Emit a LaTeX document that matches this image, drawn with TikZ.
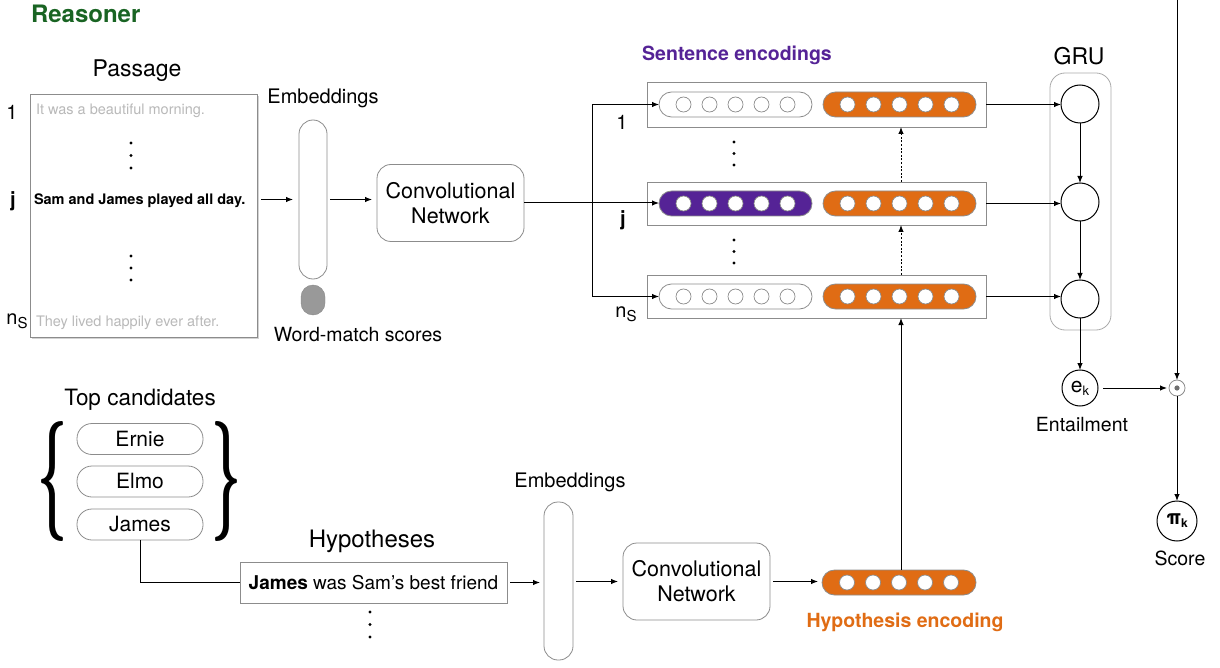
\documentclass[tikz,border=0pt]{standalone}
\usepackage{fontspec}
\setmainfont{TeX Gyre Heros}
\usepackage{graphicx}
\usetikzlibrary{arrows.meta,shadows,calc}
\definecolor{rgreen}{RGB}{25,100,35}
\definecolor{rpurple}{RGB}{85,35,150}
\definecolor{rorange}{RGB}{224,108,20}
\definecolor{bgray}{RGB}{140,140,140}
\definecolor{lgray}{RGB}{170,170,170}
\definecolor{tgray}{RGB}{185,185,185}
\newcommand{\fsz}[1]{\fontsize{#1}{#1}\selectfont}
\begin{document}
\begin{tikzpicture}[x=1pt,y=-1pt,
  every node/.style={inner sep=0pt, outer sep=0pt},
  conn/.style={line width=1pt, -{Latex[length=7pt,width=5.5pt]}},
  plainline/.style={line width=1pt},
  gbox/.style={draw=bgray, line width=0.8pt, fill=white},
  rbox/.style={gbox, rounded corners=14pt},
  pill/.style={draw=bgray, line width=0.8pt, rounded corners=12.5pt, minimum width=153pt, minimum height=25pt},
  cand/.style={draw=bgray, line width=0.8pt, rounded corners=15pt, minimum width=126pt, minimum height=31pt, font=\fsz{21}},
  unit/.style={circle, minimum size=15pt, line width=0.7pt, draw=bgray, fill=white},
  gru/.style={circle, draw, line width=1pt, minimum size=38pt},
  lbl/.style={font=\fsz{20}},
]
\useasboundingbox (0,0) rectangle (1220,668);

% ---------- titles ----------
\node[anchor=west, text=rgreen, font=\fsz{24}\bfseries] (title) at (31,14) {Reasoner};
\node[font=\fsz{23}] (passlbl) at (137,71) {Passage};
\node[text=rpurple, font=\fsz{19.5}\bfseries] (senclbl) at (737,55) {Sentence encodings};
\node[font=\fsz{23}] (grulbl) at (1079,56) {GRU};

% ---------- passage ----------
\node[gbox, minimum width=227pt, minimum height=243pt,
  drop shadow={shadow xshift=2pt, shadow yshift=-2pt, opacity=0.35}] (passage) at (143.5,215.5) {};
\node[anchor=west, text=tgray, font=\fsz{14.5}] (s1) at (36,111) {It was a beautiful morning.};
\node[anchor=west, font=\fsz{14.5}\bfseries] (sj) at (34,201) {Sam and James played all day.};
\node[anchor=west, text=tgray, font=\fsz{14.5}] (sn) at (36,323) {They lived happily ever after.};
\node[lbl] (p1) at (12,112) {1};
\node[lbl, font=\fsz{20}\bfseries] (pj) at (13,201) {j};
\node[lbl] (pn) at (17,321) {n\raisebox{-4pt}{\fsz{15}S}};
\foreach \y in {143,155.5,168,256,268,280} \fill (131,\y) circle (1.6);

% ---------- embeddings (top) ----------
\node[lbl] (emb1lbl) at (323,98) {Embeddings};
\node[rbox, minimum width=28pt, minimum height=159pt] (emb1) at (313,199.5) {};
\node[fill=lgray!90!black, draw=lgray!80!black, rounded corners=12pt, minimum width=24pt, minimum height=30pt] (wm) at (313,300) {};
\node[font=\fsz{19.5}] (wmlbl) at (358,335) {Word-match scores};
\draw[conn] ($(passage.east |- emb1.west)+(4,0)$) -- ($(emb1.west)+(-6,0)$);

% ---------- conv (top) ----------
\node[rbox, minimum width=147pt, minimum height=77pt, align=center, font=\fontsize{21.5}{25}\selectfont] (conv1) at (450.5,203) {Convolutional\\Network};
\draw[conn] ($(emb1.east)+(3,0)$) -- ($(conv1.west |- emb1.east)+(-5,0)$);

% ---------- sentence encoding rows ----------
\node[gbox, minimum width=339pt, minimum height=45pt] (row1) at (816.5,104.5) {};
\node[gbox, minimum width=339pt, minimum height=43pt] (rowj) at (816.5,203.5) {};
\node[gbox, minimum width=339pt, minimum height=43pt] (rown) at (816.5,296.5) {};

\node[pill, fill=white] (l1) at (735.5,104.5) {};
\node[pill, fill=rpurple] (lj) at (735.5,203.5) {};
\node[pill, fill=white] (ln) at (735.5,296.5) {};
\node[pill, fill=rorange] (r1) at (899.5,104.5) {};
\node[pill, fill=rorange] (rj) at (899.5,203.5) {};
\node[pill, fill=rorange] (rn) at (899.5,296.5) {};
\foreach \p in {l1,lj,ln,r1,rj,rn}
  \foreach \k in {-2,...,2}
    \node[unit] (\p-u\k) at ($(\p.center)+(\k*26,0)$) {};

\node[lbl] (r1lbl) at (622,122) {1};
\node[lbl, font=\fsz{20}\bfseries] (rjlbl) at (623,220) {j};
\node[lbl] (rnlbl) at (626,314) {n\raisebox{-4pt}{\fsz{15}S}};
\foreach \y in {142,153.5,165,240,251.5,263} \fill (734,\y) circle (1.6);

\coordinate (bx) at (592,0);
\draw[conn] (conv1.east) -- (conv1.east -| lj.west);
\draw[conn] (bx |- conv1.east) |- (l1.west);
\draw[conn] (bx |- conv1.east) |- (ln.west);

\draw[conn, dash pattern=on 2pt off 1.6pt] ([xshift=1.5pt]rowj.north -| r1.center) -- ([xshift=1.5pt]row1.south -| r1.center);
\draw[conn, dash pattern=on 2pt off 1.6pt] ([xshift=1.5pt]rown.north -| r1.center) -- ([xshift=1.5pt]rowj.south -| r1.center);

% ---------- GRU ----------
\node[draw=lgray, line width=0.8pt, rounded corners=15pt, minimum width=61pt, minimum height=257pt] (grubox) at (1080.5,201.5) {};
\node[gru] (g1) at (1080,104) {};
\node[gru] (g2) at (1080,202) {};
\node[gru] (g3) at (1080,299) {};
\draw[conn] (row1.east) -- (row1.east -| g1.west);
\draw[conn] (rowj.east) -- (rowj.east -| g2.west);
\draw[conn] (rown.east) -- (rown.east -| g3.west);
\draw[conn] (g1.south) -- (g2.north);
\draw[conn] (g2.south) -- (g3.north);

\node[circle, draw, line width=1pt, minimum size=36pt, font=\fsz{21}] (ek) at (1080,388) {e\raisebox{-3pt}{\fsz{13}k}};
\node[font=\fsz{19.5}] (entlbl) at (1082,425) {Entailment};
\draw[conn] (g3.south) -- (ek.north);

\node[circle, draw=bgray, line width=0.8pt, minimum size=16pt] (od) at (1177,388) {};
\fill[bgray!80!black] (od.center) circle (2.6);
\coordinate (topin) at (1177,0);
\draw[conn] (topin) -- (od.north);
\draw[conn] ($(ek.east)+(5,0)$) -- ($(od.west)+(-2,0)$);

\node[circle, draw, line width=1pt, minimum size=40pt, font=\fsz{20}\bfseries] (pk) at (1177,521) {π\raisebox{-3pt}{\fsz{12}\bfseries k}};
\node[font=\fsz{19.5}] (scorelbl) at (1180,558) {Score};
\draw[conn] (od.south) -- (pk.north);

% ---------- candidates ----------
\node[font=\fsz{22.5}] (toplbl) at (140,400) {Top candidates};
\node[cand] (ernie) at (140,439) {Ernie};
\node[cand] (elmo) at (140,481.5) {Elmo};
\node[cand] (james) at (140,524.5) {James};
\node (lbr) at (53,481) {\resizebox*{30pt}{120pt}{\boldmath$\{$}};
\node (rbr) at (227,481) {\resizebox*{30pt}{120pt}{\boldmath$\}$}};

% ---------- hypotheses ----------
\node[font=\fsz{24}] (hyplbl) at (372,541) {Hypotheses};
\node[gbox, minimum width=267pt, minimum height=41pt, font=\fsz{19}] (hyp) at (373.5,582.5) {\textbf{James} was Sam’s best friend};
\draw[plainline] (james.south) |- (hyp.west);
\foreach \y in {612,624.5,637} \fill (370,\y) circle (1.6);

\node[lbl] (emb2lbl) at (570,482) {Embeddings};
\node[rbox, minimum width=29pt, minimum height=158pt] (emb2) at (558.5,581) {};
\draw[conn] ($(hyp.east)+(3,0)$) -- ($(emb2.west |- hyp.east)+(-4,0)$);

\node[rbox, minimum width=147pt, minimum height=77pt, align=center, font=\fontsize{21.5}{25}\selectfont] (conv2) at (696.5,581.5) {Convolutional\\Network};
\draw[conn] ($(emb2.east |- conv2.west)+(3,0)$) -- ($(conv2.west)+(-5,0)$);

\node[pill, fill=rorange, minimum width=154pt] (hp) at (899,582.5) {};
\foreach \k in {-2,...,2}
  \node[unit] (hp-u\k) at ($(hp.center)+(\k*26,0)$) {};
\draw[conn] ($(conv2.east)+(3,0)$) -- ($(hp.west |- conv2.east)+(-4,0)$);
\node[text=rorange, font=\fsz{19.5}\bfseries] (hplbl) at (905,622) {Hypothesis encoding};
\draw[conn] ([xshift=1.5pt]hp.north -| r1.center) -- ([xshift=1.5pt]rown.south -| r1.center);
\end{tikzpicture}
\end{document}
